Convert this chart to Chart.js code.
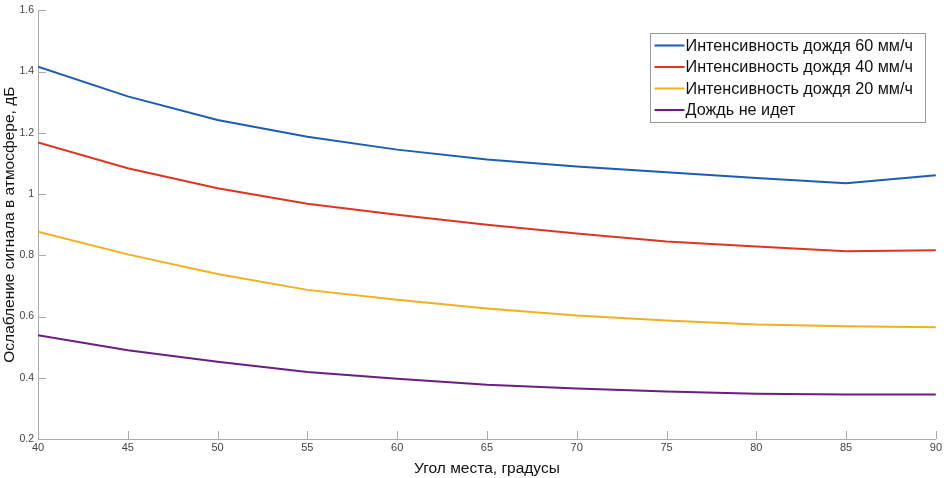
<!DOCTYPE html>
<html>
<head>
<meta charset="utf-8">
<script src="https://cdn.jsdelivr.net/npm/chart.js@4"></script>
<style>
  html, body { margin: 0; padding: 0; background: #fff; }
  #wrap { width: 944px; height: 478px; position: relative; }
</style>
</head>
<body>
<div id="wrap"><canvas id="chart_rain"></canvas></div>
<script>
// угол места, градусы
const angles = [40, 45, 50, 55, 60, 65, 70, 75, 80, 85, 90];
const rain60 = [1.416, 1.319, 1.242, 1.187, 1.145, 1.113, 1.090, 1.071, 1.052, 1.035, 1.061];
const rain40 = [1.168, 1.084, 1.019, 0.968, 0.932, 0.900, 0.871, 0.845, 0.829, 0.813, 0.816];
const rain20 = [0.877, 0.803, 0.739, 0.687, 0.655, 0.626, 0.603, 0.587, 0.574, 0.568, 0.565];
const noRain = [0.539, 0.490, 0.452, 0.419, 0.397, 0.377, 0.365, 0.355, 0.348, 0.345, 0.345];
const seriesNames = ["Интенсивность дождя 60 мм/ч", "Интенсивность дождя 40 мм/ч",
                     "Интенсивность дождя 20 мм/ч", "Дождь не идет"];
const seriesColors = ["#1c5cb5", "#de3424", "#f0b020", "#6a1f80"];

function points(values) {
    return values.map((v, i) => ({x: angles[i], y: v}));
}

// inward tick marks + legend box inside the plot
const matlabLook = {
    id: "matlabLook",
    afterDraw(chart) {
        const ctx = chart.ctx;
        const xs = chart.scales.x, ys = chart.scales.y;
        const area = chart.chartArea;
        ctx.save();
        ctx.strokeStyle = "#aaaaaa";
        ctx.lineWidth = 1;
        ctx.beginPath();
        xs.ticks.forEach(t => {
            const px = Math.round(xs.getPixelForValue(t.value)) + 0.5;
            ctx.moveTo(px, area.bottom);
            ctx.lineTo(px, area.bottom - 8);
        });
        ys.ticks.forEach(t => {
            const py = Math.round(ys.getPixelForValue(t.value)) + 0.5;
            ctx.moveTo(area.left, py);
            ctx.lineTo(area.left + 8, py);
        });
        ctx.stroke();

        // legend
        const bx = 650.5, by = 33.5, bw = 275, bh = 89;
        ctx.fillStyle = "#ffffff";
        ctx.fillRect(bx, by, bw, bh);
        ctx.strokeStyle = "#999999";
        ctx.strokeRect(bx, by, bw, bh);
        ctx.font = "16.2px 'Liberation Sans', Arial, sans-serif";
        ctx.textBaseline = "middle";
        chart.data.datasets.forEach((ds, i) => {
            const cy = by + 12 + i * 21.5;
            ctx.strokeStyle = ds.borderColor;
            ctx.lineWidth = 2;
            ctx.beginPath();
            ctx.moveTo(bx + 4, cy);
            ctx.lineTo(bx + 34, cy);
            ctx.stroke();
            ctx.fillStyle = "#111111";
            ctx.fillText(ds.label, bx + 35, cy + 1);
        });
        ctx.restore();
    }
};

const chart_rain = new Chart("chart_rain", {
    type: "line",
    data: {
        datasets: seriesNames.map((name, i) => ({
            label: name,
            data: points([rain60, rain40, rain20, noRain][i]),
            borderColor: seriesColors[i],
            borderWidth: 2,
            pointRadius: 0,
            tension: 0,
            fill: false
        }))
    },
    options: {
        responsive: true,
        maintainAspectRatio: false,
        animation: false,
        layout: {padding: {top: -4, right: 7, left: 0, bottom: 0}},
        plugins: {
            legend: {display: false},
            tooltip: {enabled: false}
        },
        scales: {
            x: {
                type: "linear",
                min: 40,
                max: 90,
                ticks: {
                    stepSize: 5,
                    color: "#444",
                    padding: 2,
                    maxRotation: 0,
                    font: {family: "'Liberation Sans', Arial, sans-serif", size: 11}
                },
                grid: {display: false, drawTicks: false},
                border: {color: "#aaaaaa", width: 1},
                title: {
                    display: true,
                    text: "Угол места, градусы",
                    color: "#111",
                    padding: {top: 0, bottom: 0},
                    font: {family: "'Liberation Sans', Arial, sans-serif", size: 15.5}
                },
                afterFit(scale) { scale.height = 39; }
            },
            y: {
                min: 0.2,
                max: 1.6,
                ticks: {
                    stepSize: 0.2,
                    color: "#444",
                    padding: 4,
                    callback: v => String(+v.toFixed(1)),
                    font: {family: "'Liberation Sans', Arial, sans-serif", size: 10.5}
                },
                grid: {display: false, drawTicks: false},
                border: {color: "#aaaaaa", width: 1},
                title: {
                    display: true,
                    text: "Ослабление сигнала в атмосфере, дБ",
                    color: "#111",
                    padding: {top: 0, bottom: 2},
                    font: {family: "'Liberation Sans', Arial, sans-serif", size: 15.5}
                },
                afterFit(scale) { scale.width = 38; }
            }
        }
    },
    plugins: [matlabLook]
});
</script>
</body>
</html>
